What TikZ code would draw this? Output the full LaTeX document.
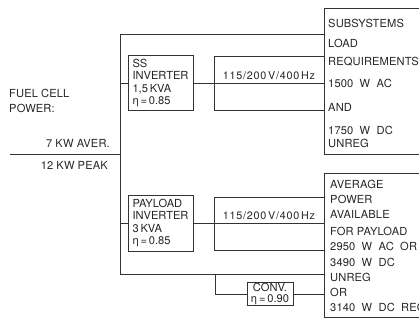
\documentclass[tikz,border=0pt]{standalone}
\usepackage{fontspec}
\setmainfont{TeX Gyre Heros}
\usetikzlibrary{calc}

\begin{document}
\begin{tikzpicture}[
    x=0.03cm,y=-0.03cm,
    wire/.style={draw=black!80,line width=0.8pt},
    unit/.style={draw=black!80,line width=0.8pt,align=left,inner sep=3pt,font=\fontsize{9.5}{10.6}\selectfont,text=black!85},
    panel/.style={draw=black!80,line width=0.8pt,minimum width=3.6cm,anchor=north west},
    txt/.style={inner sep=0pt,font=\fontsize{9.5}{12.8}\selectfont\addfontfeature{LetterSpace=1},text=black!85},
    freq/.style={inner sep=0pt,font=\fontsize{9.2}{10}\selectfont\addfontfeature{LetterSpace=7},text=black!85}
    ]
\useasboundingbox (0,0) rectangle (419,324);
\clip (0,0) rectangle (419,324);

% load panels on the right
\node[panel,minimum height=4.38cm] (loads) at (324,8) {};
\node[panel,minimum height=4.32cm] (avail) at (324,173) {};
\foreach \yy/\line in {23/SUBSYSTEMS,43/LOAD,62/REQUIREMENTS,83/1500\ \ W\ \ AC,107/AND,130/1750\ \ W\ \ DC,143/UNREG}
    \node[txt,anchor=west] (req\yy) at (328,\yy) {\line};
\foreach \yy/\line in {184/AVERAGE,199/POWER,214/AVAILABLE,231/FOR PAYLOAD,246/2950\ \ W\ \ AC\ \ OR,262/3490\ \ W\ \ DC,277/UNREG,292/OR,307/3140\ \ W\ \ DC\ \ REG}
    \node[txt,anchor=west] (pay\yy) at (330,\yy) {\line};

% inverters and converter
\node[unit,minimum width=1.95cm,minimum height=1.62cm] (ssinv) at (160.5,83) {SS\\INVERTER\\1,5\,KVA\\η\,=\,0.85};
\node[unit,minimum width=1.95cm,minimum height=1.68cm] (plinv) at (160.5,223) {PAYLOAD\\INVERTER\\3\,KVA\\η\,=\,0.85};
\node[unit,align=center,minimum width=1.38cm,minimum height=0.6cm,inner sep=1pt,font=\fontsize{9.5}{8.8}\selectfont] (conv) at (270,294) {CONV.\\η\,=\,0.90};

% fuel cell input
\node[txt,anchor=west,align=left] (fuel) at (9,100.5) {FUEL CELL\\POWER:};
\node[txt,anchor=east] (aver) at (110,143) {7 KW AVER.};
\node[txt,anchor=east] (peak) at (108,165) {12 KW PEAK};

\coordinate (fc) at (10,154);
\coordinate (bustop) at (120,34);
\coordinate (busbot) at (120,274);
\coordinate (tap) at (215,274);
\coordinate (ssA) at (214,56);
\coordinate (ssB) at (214,110);
\coordinate (plA) at (214,197);
\coordinate (plB) at (214,250);

% bus
\draw[wire] (fc) -- (fc -| bustop);
\draw[wire] (bustop) -- (busbot);
\draw[wire] (bustop) -- (bustop -| loads.west);
\draw[wire] (busbot) -- (busbot -| avail.west);

% ss branch
\draw[wire] (ssinv.west -| bustop) -- (ssinv.west);
\draw[wire] (ssinv.east) -- (ssinv.east -| loads.west);
\draw[wire] (ssA -| loads.west) -| (ssB) -- (ssB -| loads.west);
\node[freq] (acss) at (269,76) {115/200\,V/400\,Hz};

% payload branch
\draw[wire] (plinv.west -| bustop) -- (plinv.west);
\draw[wire] (plinv.east) -- (plinv.east -| avail.west);
\draw[wire] (plA -| avail.west) -| (plB) -- (plB -| avail.west);
\node[freq] (acpl) at (269,216) {115/200\,V/400\,Hz};

% dc converter
\draw[wire] (tap) |- (conv.west);
\draw[wire] (conv.east) -- (conv.east -| avail.west);
\end{tikzpicture}
\end{document}
